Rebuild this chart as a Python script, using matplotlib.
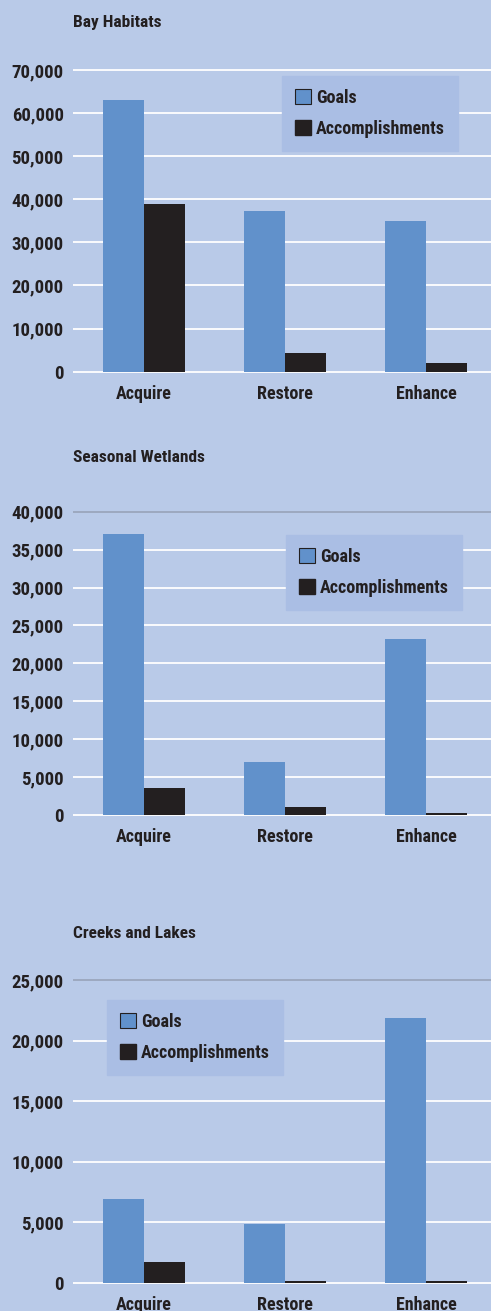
import matplotlib
matplotlib.use("Agg")
import matplotlib.pyplot as plt
from matplotlib import font_manager
from matplotlib.patches import Patch
from matplotlib.ticker import FuncFormatter
import numpy as np

# data
categories = ["Acquire", "Restore", "Enhance"]
series_names = ["Goals", "Accomplishments"]

bay_goals = [63000, 37300, 35000]
bay_accomp = [38900, 4300, 2000]

seasonal_goals = [37000, 7000, 23200]
seasonal_accomp = [3500, 1100, 250]

creeks_goals = [6900, 4850, 21900]
creeks_accomp = [1700, 150, 150]

titles = ["Bay Habitats", "Seasonal Wetlands", "Creeks and Lakes"]
y_maxes = [70000, 40000, 25000]
y_steps = [10000, 5000, 5000]

# look
BG = "#B9CAE8"
LEG_BG = "#AABEE4"
BLUE = "#6191CB"
DARK = "#231F20"
TXT = "#231F20"

names = {f.name for f in font_manager.fontManager.ttflist}
fam = "DejaVu Sans"
for cand in ["Liberation Sans Narrow", "Roboto Condensed", "Open Sans Condensed", "Liberation Sans"]:
    if cand in names:
        fam = cand
        break
plt.rcParams["font.family"] = [fam, "DejaVu Sans"]
plt.rcParams["font.weight"] = "bold"

W, H = 491, 1311
fig = plt.figure(figsize=(W / 100, H / 100), dpi=100, facecolor=BG)

# pixel layout of each panel: (top value px, zero px, title y px, legend top-left px)
layout = [
    dict(top=70.0, zero=371.7, title_y=23, leg=(282, 76), top_gray=False),
    dict(top=511.7, zero=815.0, title_y=457, leg=(286, 535), top_gray=True),
    dict(top=980.3, zero=1282.7, title_y=934, leg=(107, 1000), top_gray=True),
]
left_px, right_px = 72.7, 491.0
centers_px = [144.0, 286.0, 426.0]
spacing = (centers_px[2] - centers_px[0]) / 2

all_goals = [bay_goals, seasonal_goals, creeks_goals]
all_accomp = [bay_accomp, seasonal_accomp, creeks_accomp]

for i in range(3):
    L = layout[i]
    ymax = y_maxes[i]
    ppu = (L["zero"] - L["top"]) / ymax
    pad = ymax * 0.012
    ax_top = L["top"] - pad * ppu
    ax_bot = L["zero"] + pad * ppu
    ax = fig.add_axes([left_px / W, 1 - ax_bot / H, (right_px - left_px) / W, (ax_bot - ax_top) / H])
    ax.set_facecolor(BG)
    ax.set_ylim(-pad, ymax + pad)
    ax.set_xlim((left_px - centers_px[0]) / spacing, (right_px - centers_px[0]) / spacing)

    ticks = np.arange(0, ymax + 1, y_steps[i])
    for t in ticks:
        col = "#9BA6BC" if (t == ymax and L["top_gray"]) else "white"
        ax.axhline(t, color=col, lw=1.3, zorder=1)

    x = np.arange(len(categories))
    bw = 0.294
    ax.bar(x - bw / 2, all_goals[i], width=bw, color=BLUE, zorder=2)
    ax.bar(x + bw / 2, all_accomp[i], width=bw, color=DARK, zorder=2)

    for s in ax.spines.values():
        s.set_visible(False)
    ax.set_yticks(ticks)
    ax.yaxis.set_major_formatter(FuncFormatter(lambda v, p: f"{int(v):,}"))
    ax.set_xticks(x)
    ax.set_xticklabels(categories)
    ax.tick_params(length=0, labelcolor=TXT)
    ax.tick_params(axis="y", pad=6.5, labelsize=13.5)
    ax.tick_params(axis="x", pad=7, labelsize=13)

    fig.text(73 / W, 1 - L["title_y"] / H, titles[i], fontsize=12.5, fontweight="bold",
             color=TXT, ha="left", va="center")

    handles = [Patch(facecolor=BLUE, edgecolor=DARK, linewidth=0.8),
               Patch(facecolor=DARK, edgecolor=DARK)]
    lx, ly = L["leg"]
    leg = fig.legend(handles, series_names, loc="upper left",
                     bbox_to_anchor=(lx / W, 1 - ly / H), borderaxespad=0,
                     fontsize=13, frameon=True, fancybox=False, facecolor=LEG_BG,
                     edgecolor=LEG_BG, framealpha=1, handlelength=0.9, handleheight=0.9,
                     handletextpad=0.3, labelspacing=0.75, borderpad=0.7)
    for t in leg.get_texts():
        t.set_color(TXT)
        t.set_fontweight("bold")

fig.savefig("out.png", dpi=100, facecolor=BG)
